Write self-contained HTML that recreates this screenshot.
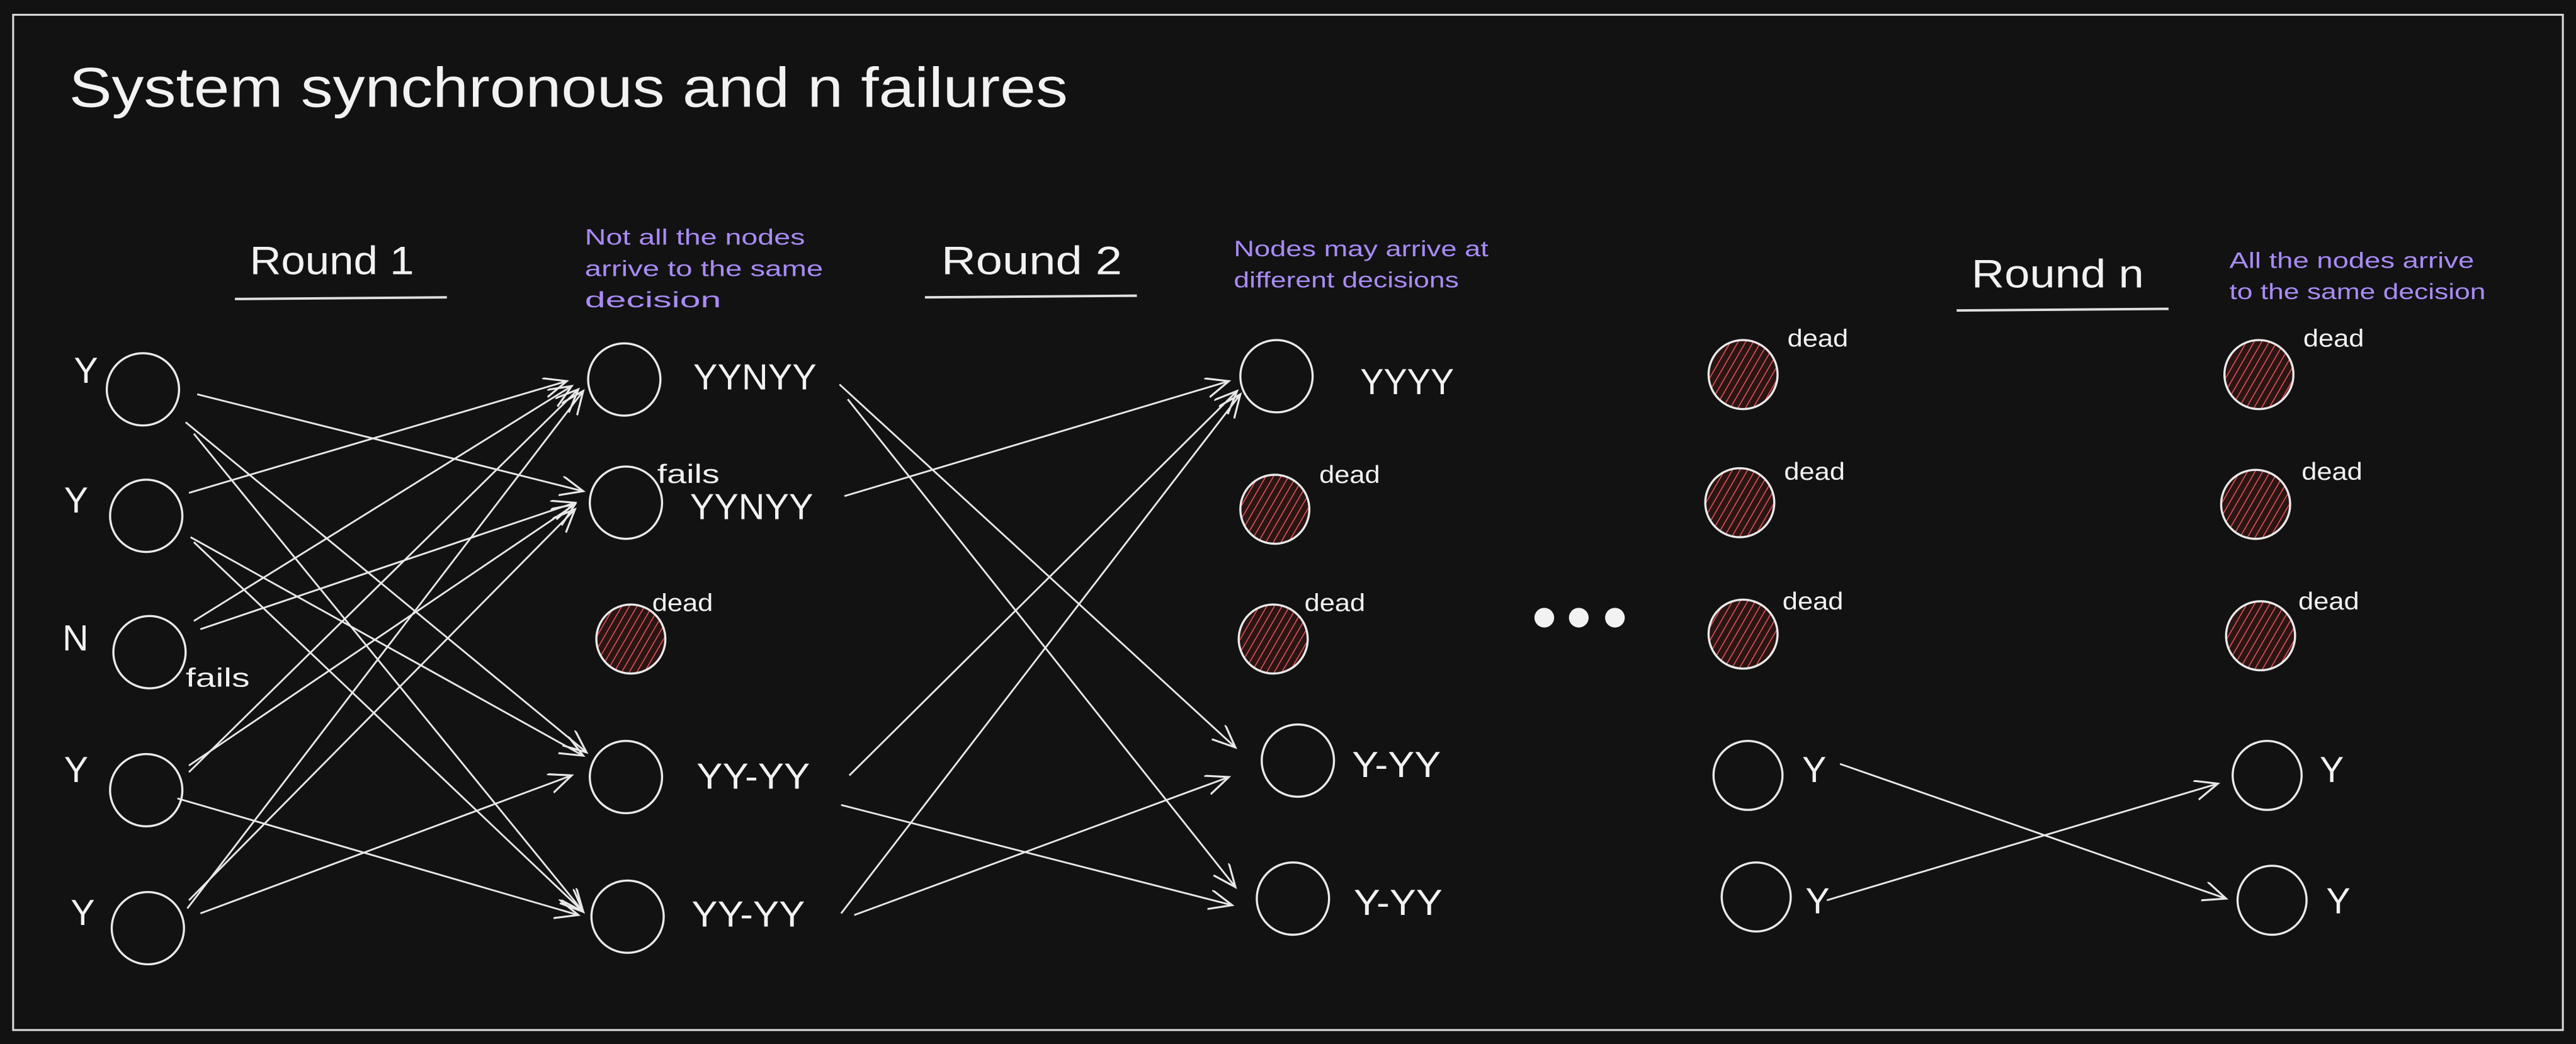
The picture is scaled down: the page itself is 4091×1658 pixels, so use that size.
<!DOCTYPE html>
<html><head><meta charset="utf-8"><style>html,body{margin:0;padding:0;background:#121212;}svg{display:block}</style></head>
<body>
<svg width="4091" height="1658" viewBox="0 0 1568 635.5" preserveAspectRatio="none" xmlns="http://www.w3.org/2000/svg" font-family="Liberation Sans, sans-serif">
<defs>
<marker id="a" markerUnits="userSpaceOnUse" markerWidth="20" markerHeight="16" refX="14" refY="6" orient="auto">
<path d="M0,0 L14,6 L0,12" fill="none" stroke="#e8e8e8" stroke-width="1.2"/>
</marker>
<pattern id="h" patternUnits="userSpaceOnUse" width="4" height="4" patternTransform="rotate(30)">
<rect width="4" height="4" fill="#2a1414"/>
<line x1="0" y1="0" x2="0" y2="4" stroke="#e05555" stroke-width="1.2"/>
</pattern>
</defs>
<rect width="1568" height="635.5" fill="#121212"/>
<rect x="8" y="9" width="1552" height="618" fill="none" stroke="#d8d8d8" stroke-width="1.2"/>
<g fill="#f2f2f2">
<text x="42" y="65" font-size="34" textLength="608" lengthAdjust="spacingAndGlyphs">System synchronous and n failures</text>
<text x="152" y="167" font-size="24" textLength="100" lengthAdjust="spacingAndGlyphs">Round 1</text>
<text x="573" y="167" font-size="24" textLength="110" lengthAdjust="spacingAndGlyphs">Round 2</text>
<text x="1200" y="175" font-size="24" textLength="105" lengthAdjust="spacingAndGlyphs">Round n</text>
</g>
<g stroke="#e0e0e0" stroke-width="1.5">
<line x1="143" y1="182" x2="272" y2="181"/>
<line x1="563" y1="181" x2="692" y2="180"/>
<line x1="1191" y1="189" x2="1320" y2="188"/>
</g>
<g fill="#a98bf5" font-size="13.5" lengthAdjust="spacingAndGlyphs">
<text x="356" y="149" textLength="134" lengthAdjust="spacingAndGlyphs">Not all the nodes</text>
<text x="356" y="168" textLength="145" lengthAdjust="spacingAndGlyphs">arrive to the same</text>
<text x="356" y="187" textLength="83" lengthAdjust="spacingAndGlyphs">decision</text>
<text x="751" y="156" textLength="155" lengthAdjust="spacingAndGlyphs">Nodes may arrive at</text>
<text x="751" y="175" textLength="137" lengthAdjust="spacingAndGlyphs">different decisions</text>
<text x="1357" y="163" textLength="149" lengthAdjust="spacingAndGlyphs">All the nodes arrive</text>
<text x="1357" y="182" textLength="156" lengthAdjust="spacingAndGlyphs">to the same decision</text>
</g>
<g fill="none" stroke="#eaeaea" stroke-width="1.3">
<circle cx="87" cy="237" r="22"/><circle cx="89" cy="314" r="22"/><circle cx="91" cy="397" r="22"/><circle cx="89" cy="481" r="22"/><circle cx="90" cy="565" r="22"/>
<circle cx="380" cy="231" r="22"/><circle cx="381" cy="306" r="22"/><circle cx="381" cy="473" r="22"/><circle cx="382" cy="558" r="22"/>
<circle cx="777" cy="229" r="22"/><circle cx="790" cy="463" r="22"/><circle cx="787" cy="547" r="22"/>
<circle cx="1064" cy="472" r="21"/><circle cx="1069" cy="546" r="21"/>
<circle cx="1380" cy="472" r="21"/><circle cx="1383" cy="548" r="21"/>
</g>
<g fill="url(#h)" stroke="#eaeaea" stroke-width="1.3">
<circle cx="384" cy="389" r="21"/>
<circle cx="776" cy="310" r="21"/><circle cx="775" cy="389" r="21"/>
<circle cx="1061" cy="228" r="21"/><circle cx="1059" cy="306" r="21"/><circle cx="1061" cy="386" r="21"/>
<circle cx="1375" cy="228" r="21"/><circle cx="1373" cy="307" r="21"/><circle cx="1376" cy="387" r="21"/>
</g>
<g fill="#f2f2f2" font-size="22">
<text x="45" y="233">Y</text><text x="39" y="312">Y</text><text x="38" y="396">N</text><text x="39" y="476">Y</text><text x="43" y="563">Y</text>
<text x="422" y="237" textLength="75" lengthAdjust="spacingAndGlyphs">YYNYY</text><text x="420" y="316" textLength="75" lengthAdjust="spacingAndGlyphs">YYNYY</text><text x="424" y="480" textLength="69" lengthAdjust="spacingAndGlyphs">YY-YY</text><text x="421" y="564" textLength="69" lengthAdjust="spacingAndGlyphs">YY-YY</text>
<text x="828" y="240" textLength="57" lengthAdjust="spacingAndGlyphs">YYYY</text><text x="823" y="473" textLength="54" lengthAdjust="spacingAndGlyphs">Y-YY</text><text x="824" y="557" textLength="54" lengthAdjust="spacingAndGlyphs">Y-YY</text>
<text x="1097" y="476">Y</text><text x="1099" y="556">Y</text><text x="1412" y="476">Y</text><text x="1416" y="556">Y</text>
</g>
<g fill="#f2f2f2" font-size="16">
<text x="113" y="418" textLength="39" lengthAdjust="spacingAndGlyphs">fails</text><text x="400" y="294" textLength="38" lengthAdjust="spacingAndGlyphs">fails</text>
</g>
<g fill="#f2f2f2" font-size="15">
<text x="397" y="372" textLength="37" lengthAdjust="spacingAndGlyphs">dead</text><text x="803" y="294" textLength="37" lengthAdjust="spacingAndGlyphs">dead</text><text x="794" y="372" textLength="37" lengthAdjust="spacingAndGlyphs">dead</text>
<text x="1088" y="211" textLength="37" lengthAdjust="spacingAndGlyphs">dead</text><text x="1086" y="292" textLength="37" lengthAdjust="spacingAndGlyphs">dead</text><text x="1085" y="371" textLength="37" lengthAdjust="spacingAndGlyphs">dead</text>
<text x="1402" y="211" textLength="37" lengthAdjust="spacingAndGlyphs">dead</text><text x="1401" y="292" textLength="37" lengthAdjust="spacingAndGlyphs">dead</text><text x="1399" y="371" textLength="37" lengthAdjust="spacingAndGlyphs">dead</text>
</g>
<g fill="#f2f2f2"><circle cx="940" cy="376" r="6"/><circle cx="961" cy="376" r="6"/><circle cx="983" cy="376" r="6"/></g>
<g stroke="#e8e8e8" stroke-width="1.1" marker-end="url(#a)">
<line x1="120" y1="240" x2="355" y2="299"/>
<line x1="113" y1="257" x2="357" y2="458"/>
<line x1="118" y1="264" x2="355" y2="555"/>
<line x1="115" y1="300" x2="345" y2="232"/>
<line x1="116" y1="327" x2="355" y2="460"/>
<line x1="118" y1="330" x2="355" y2="555"/>
<line x1="118" y1="378" x2="348" y2="235"/>
<line x1="122" y1="383" x2="350" y2="306"/>
<line x1="115" y1="470" x2="352" y2="237"/>
<line x1="115" y1="466" x2="350" y2="307"/>
<line x1="108" y1="486" x2="352" y2="557"/>
<line x1="114" y1="553" x2="355" y2="238"/>
<line x1="115" y1="548" x2="350" y2="310"/>
<line x1="122" y1="556" x2="348" y2="472"/>
<line x1="511" y1="234" x2="752" y2="455"/>
<line x1="516" y1="243" x2="752" y2="540"/>
<line x1="514" y1="302" x2="748" y2="232"/>
<line x1="517" y1="472" x2="753" y2="238"/>
<line x1="512" y1="490" x2="750" y2="551"/>
<line x1="512" y1="556" x2="755" y2="240"/>
<line x1="520" y1="557" x2="748" y2="473"/>
<line x1="1120" y1="465" x2="1355" y2="547"/>
<line x1="1112" y1="548" x2="1350" y2="477"/>
</g>
</svg>
</body></html>
